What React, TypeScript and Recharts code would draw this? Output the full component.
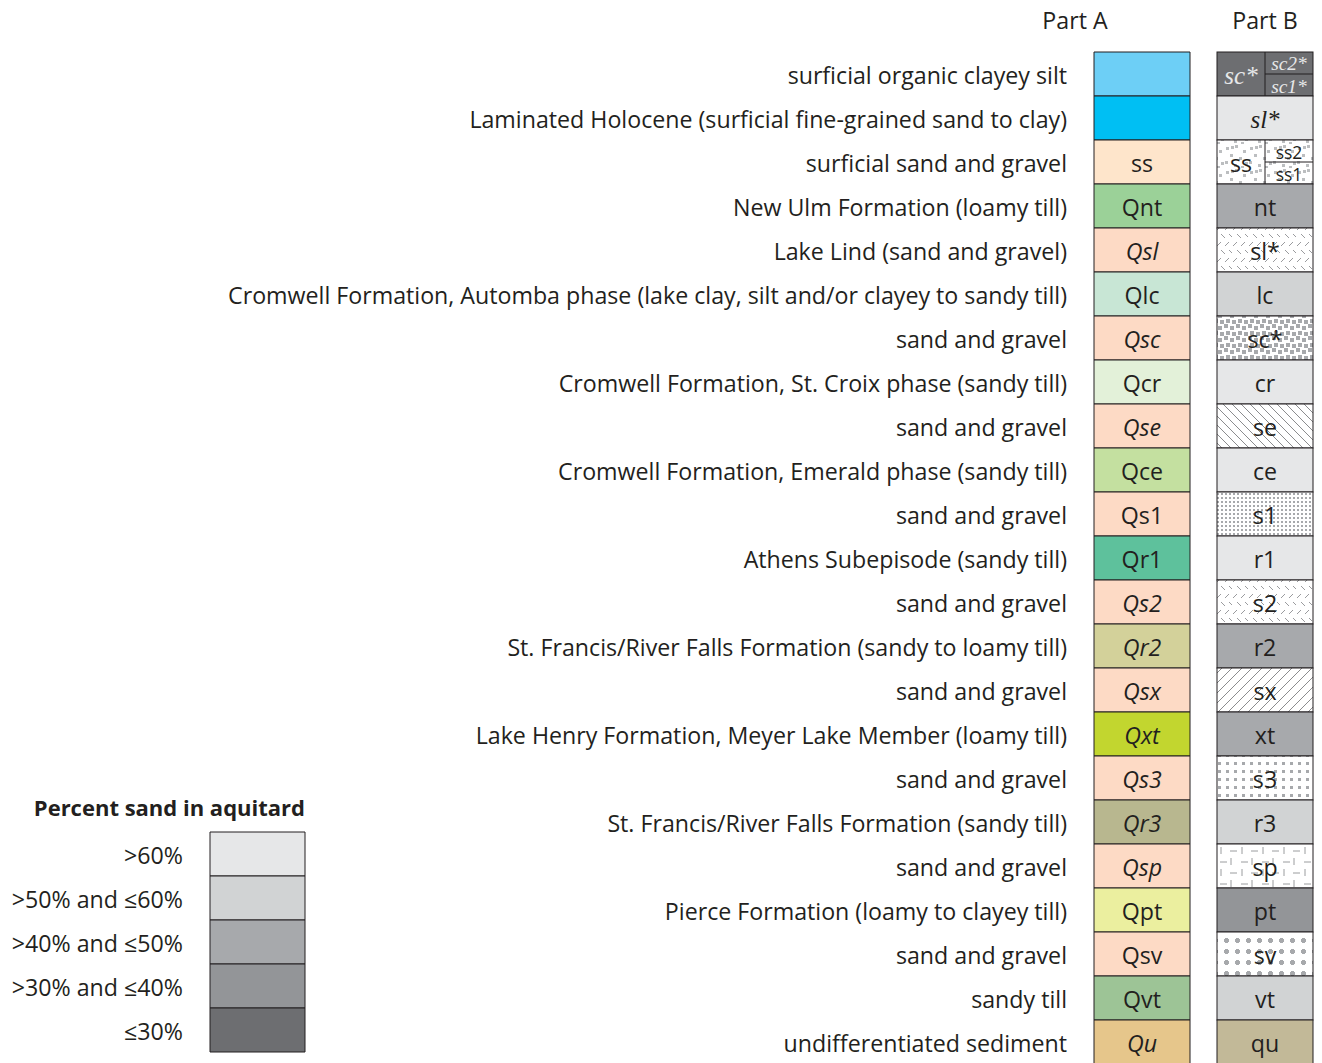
import React from 'react';
import { BarChart, Bar, XAxis, YAxis, Cell, LabelList } from 'recharts';

// Row descriptions (left labels), top to bottom
const rowLabels = [
  'surficial organic clayey silt',
  'Laminated Holocene (surficial fine-grained sand to clay)',
  'surficial sand and gravel',
  'New Ulm Formation (loamy till)',
  'Lake Lind (sand and gravel)',
  'Cromwell Formation, Automba phase (lake clay, silt and/or clayey to sandy till)',
  'sand and gravel',
  'Cromwell Formation, St. Croix phase (sandy till)',
  'sand and gravel',
  'Cromwell Formation, Emerald phase (sandy till)',
  'sand and gravel',
  'Athens Subepisode (sandy till)',
  'sand and gravel',
  'St. Francis/River Falls Formation (sandy to loamy till)',
  'sand and gravel',
  'Lake Henry Formation, Meyer Lake Member (loamy till)',
  'sand and gravel',
  'St. Francis/River Falls Formation (sandy till)',
  'sand and gravel',
  'Pierce Formation (loamy to clayey till)',
  'sand and gravel',
  'sandy till',
  'undifferentiated sediment',
];

const partACodes = [
  '', '', 'ss', 'Qnt', 'Qsl', 'Qlc', 'Qsc', 'Qcr', 'Qse', 'Qce', 'Qs1', 'Qr1',
  'Qs2', 'Qr2', 'Qsx', 'Qxt', 'Qs3', 'Qr3', 'Qsp', 'Qpt', 'Qsv', 'Qvt', 'Qu',
];

const partAItalic = [
  'Qsl', 'Qsc', 'Qse', 'Qs2', 'Qr2', 'Qsx', 'Qxt', 'Qs3', 'Qr3', 'Qsp', 'Qu',
];

const partAColors = [
  '#6dcff6', '#00bff3', '#fee5cb', '#9bd198', '#fddac5', '#c8e6d5', '#fddac5', '#e3f1d9',
  '#fddac5', '#c4e0a0', '#fddac5', '#5ec19c', '#fddac5', '#d3d19a', '#fddac5', '#c2d62f',
  '#fddac5', '#b8b78f', '#fddac5', '#ebef9f', '#fddac5', '#9dc496', '#e6c68b',
];

const partBCodes = [
  'sc*', 'sl*', 'ss', 'nt', 'sl*', 'lc', 'sc*', 'cr', 'se', 'ce', 's1', 'r1',
  's2', 'r2', 'sx', 'xt', 's3', 'r3', 'sp', 'pt', 'sv', 'vt', 'qu',
];

// split cells: [upper, lower] labels in the right half
const partBSplits: Record<number, string[]> = {
  0: ['sc2*', 'sc1*'],
  2: ['ss2', 'ss1'],
};

const partBSerif = [0, 1];

const partBFills = [
  '#6d6e71', '#e6e7e8', 'url(#pat-ss)', '#a7a9ac', 'url(#pat-zig)', '#d1d3d4',
  'url(#pat-check)', '#e6e7e8', 'url(#pat-back)', '#e6e7e8', 'url(#pat-fine)', '#e6e7e8',
  'url(#pat-zig)', '#a7a9ac', 'url(#pat-fwd)', '#a7a9ac', 'url(#pat-dots)', '#d1d3d4',
  'url(#pat-dash)', '#939598', 'url(#pat-plus)', '#d1d3d4', '#c2b998',
];

const sandClasses = ['>60%', '>50% and ≤60%', '>40% and ≤50%', '>30% and ≤40%', '≤30%'];
const sandColors = ['#e6e7e8', '#d1d3d4', '#a7a9ac', '#939598', '#6d6e71'];

const FONT = '"Open Sans", "Noto Sans", sans-serif';
const SERIF = '"Liberation Serif", "DejaVu Serif", serif';
const INK = '#231f20';
const FS = 23.2;

const partAData = rowLabels.map((label, i) => ({ key: `r${i}`, label, unit: 1 }));
const partBData = partBCodes.map((code, i) => ({ key: `r${i}`, code, unit: 1 }));
const sandData = sandClasses.map((label, i) => ({ key: `s${i}`, label, unit: 1 }));

const RightTick = ({ x, y, payload, labels }: any) => {
  const idx = Number(String(payload.value).slice(1));
  return (
    <text x={x} y={y + 1} textAnchor="end" dominantBaseline="central" fontFamily={FONT} fontSize={FS} fill={INK}>
      {labels[idx]}
    </text>
  );
};

const PartALabel = (props: any) => {
  const { x, y, width, height, index } = props;
  const code = partACodes[index];
  if (!code) return null;
  return (
    <text
      x={x + width / 2}
      y={y + height / 2 + 1}
      textAnchor="middle"
      dominantBaseline="central"
      fontFamily={FONT}
      fontSize={FS}
      fontStyle={partAItalic.includes(code) ? 'italic' : 'normal'}
      fill={INK}
    >
      {code}
    </text>
  );
};

const PartBShape = (props: any) => {
  const { x, y, width, height, index } = props;
  const split = partBSplits[index];
  const serif = partBSerif.includes(index);
  const dark = index === 0;
  const color = dark ? '#e6e7e8' : INK;
  const family = serif ? SERIF : FONT;
  const style = serif ? 'italic' : 'normal';
  const size = serif ? 25 : FS;
  const subSize = serif ? 19.5 : 17.5;
  const cx = x + width / 2;
  const cy = y + height / 2;
  return (
    <g>
      <rect x={x} y={y} width={width} height={height} fill={partBFills[index]} stroke={INK} strokeWidth={1} />
      {split && (
        <g>
          <line x1={cx} y1={y} x2={cx} y2={y + height} stroke={INK} strokeWidth={1} />
          <line x1={cx} y1={cy} x2={x + width} y2={cy} stroke={INK} strokeWidth={1} />
          <text x={x + width / 4} y={cy + 1} textAnchor="middle" dominantBaseline="central"
            fontFamily={family} fontStyle={style} fontSize={size} fill={color}>
            {partBCodes[index]}
          </text>
          <text x={x + (3 * width) / 4} y={y + height / 4 + 0.5} textAnchor="middle" dominantBaseline="central"
            fontFamily={family} fontStyle={style} fontSize={subSize} fill={color}>
            {split[0]}
          </text>
          <text x={x + (3 * width) / 4} y={y + (3 * height) / 4 + 1} textAnchor="middle" dominantBaseline="central"
            fontFamily={family} fontStyle={style} fontSize={subSize} fill={color}>
            {split[1]}
          </text>
        </g>
      )}
      {!split && (
        <text x={cx} y={cy + 1} textAnchor="middle" dominantBaseline="central"
          fontFamily={family} fontStyle={style} fontSize={size} fill={color}>
          {partBCodes[index]}
        </text>
      )}
    </g>
  );
};

const Patterns = () => (
  <svg width={0} height={0} style={{ position: 'absolute' }}>
    <defs>
      <pattern id="pat-ss" width={24} height={24} patternUnits="userSpaceOnUse">
        <rect width={24} height={24} fill="#fff" />
        {[[2, 3], [11, 1], [19, 6], [6, 10], [15, 13], [1, 17], [10, 20], [21, 18], [7, 2], [17, 22]].map(([px, py], i) => (
          <rect key={i} x={px} y={py} width={3} height={3} fill="#bcbec0" />
        ))}
      </pattern>
      <pattern id="pat-zig" width={16} height={16} patternUnits="userSpaceOnUse">
        <rect width={16} height={16} fill="#fff" />
        <line x1={1} y1={6} x2={5} y2={2} stroke="#808285" strokeWidth={0.8} />
        <line x1={9} y1={6} x2={13} y2={2} stroke="#808285" strokeWidth={0.8} />
        <line x1={5} y1={10} x2={9} y2={14} stroke="#808285" strokeWidth={0.8} />
        <line x1={13} y1={10} x2={17} y2={14} stroke="#808285" strokeWidth={0.8} />
      </pattern>
      <pattern id="pat-check" width={12} height={12} patternUnits="userSpaceOnUse">
        <rect width={12} height={12} fill="#fff" />
        <rect x={0} y={0} width={4} height={4} fill="#a7a9ac" />
        <rect x={6} y={2} width={4} height={4} fill="#a7a9ac" />
        <rect x={2} y={7} width={4} height={4} fill="#a7a9ac" />
        <rect x={8} y={8} width={4} height={4} fill="#a7a9ac" />
      </pattern>
      <pattern id="pat-back" width={9} height={9} patternUnits="userSpaceOnUse">
        <rect width={9} height={9} fill="#fff" />
        <line x1={0} y1={0} x2={9} y2={9} stroke="#6d6e71" strokeWidth={0.8} />
        <line x1={-9} y1={0} x2={9} y2={18} stroke="#6d6e71" strokeWidth={0.8} />
        <line x1={0} y1={-9} x2={18} y2={9} stroke="#6d6e71" strokeWidth={0.8} />
      </pattern>
      <pattern id="pat-fwd" width={10} height={10} patternUnits="userSpaceOnUse">
        <rect width={10} height={10} fill="#fff" />
        <line x1={0} y1={10} x2={10} y2={0} stroke="#6d6e71" strokeWidth={0.8} />
        <line x1={-10} y1={10} x2={10} y2={-10} stroke="#6d6e71" strokeWidth={0.8} />
        <line x1={0} y1={20} x2={20} y2={0} stroke="#6d6e71" strokeWidth={0.8} />
      </pattern>
      <pattern id="pat-fine" width={4} height={4} patternUnits="userSpaceOnUse">
        <rect width={4} height={4} fill="#fff" />
        <rect x={1} y={1} width={2} height={2} fill="#a7a9ac" />
      </pattern>
      <pattern id="pat-dots" width={8} height={8} patternUnits="userSpaceOnUse">
        <rect width={8} height={8} fill="#fff" />
        <rect x={2} y={2} width={3} height={3} fill="#a7a9ac" />
      </pattern>
      <pattern id="pat-dash" width={21} height={22} patternUnits="userSpaceOnUse">
        <rect width={21} height={22} fill="#fff" />
        <line x1={2} y1={4} x2={9} y2={4} stroke="#808285" strokeWidth={0.8} />
        <line x1={13} y1={0} x2={13} y2={7} stroke="#808285" strokeWidth={0.8} />
        <line x1={12} y1={15} x2={19} y2={15} stroke="#808285" strokeWidth={0.8} />
        <line x1={3} y1={11} x2={3} y2={18} stroke="#808285" strokeWidth={0.8} />
      </pattern>
      <pattern id="pat-plus" width={11} height={11} patternUnits="userSpaceOnUse">
        <rect width={11} height={11} fill="#fff" />
        <rect x={3} y={4} width={5} height={3} fill="#a7a9ac" />
        <rect x={4} y={3} width={3} height={5} fill="#a7a9ac" />
      </pattern>
    </defs>
  </svg>
);

const headerStyle: React.CSSProperties = {
  position: 'absolute',
  top: 4,
  width: 120,
  textAlign: 'center',
  fontFamily: FONT,
  fontSize: FS,
  color: INK,
  whiteSpace: 'nowrap',
};

const layer: React.CSSProperties = { position: 'absolute', left: 0, top: 0 };

export default function App() {
  return (
    <div style={{ position: 'absolute', left: 0, top: 0, width: 1322, height: 1063, background: '#fff', overflow: 'hidden' }}>
      <Patterns />
      <div style={{ ...headerStyle, left: 1075 - 60 }}>Part A</div>
      <div style={{ ...headerStyle, left: 1265 - 60 }}>Part B</div>
      <div style={{ ...headerStyle, top: 792, left: 0, width: 305, textAlign: 'right', fontWeight: 700, fontSize: 22 }}>
        Percent sand in aquitard
      </div>

      <div style={layer}>
        <BarChart width={1322} height={1064} data={partAData} layout="vertical" barCategoryGap={0}
          margin={{ top: 52, right: 132, bottom: 0, left: 0 }}>
          <XAxis type="number" domain={[0, 1]} hide />
          <YAxis type="category" dataKey="key" width={1094} axisLine={false} tickLine={false}
            tickSize={0} tickMargin={27} interval={0}
            tick={(p: any) => <RightTick {...p} labels={rowLabels} />} />
          <Bar dataKey="unit" stroke={INK} strokeWidth={1} isAnimationActive={false}>
            {partAData.map((d, i) => (
              <Cell key={d.key} fill={partAColors[i]} />
            ))}
            <LabelList dataKey="unit" content={PartALabel} />
          </Bar>
        </BarChart>
      </div>

      <div style={layer}>
        <BarChart width={1322} height={1064} data={partBData} layout="vertical" barCategoryGap={0}
          margin={{ top: 52, right: 9, bottom: 0, left: 1217 }}>
          <XAxis type="number" domain={[0, 1]} hide />
          <YAxis type="category" dataKey="key" hide />
          <Bar dataKey="unit" isAnimationActive={false} shape={PartBShape} />
        </BarChart>
      </div>

      <div style={layer}>
        <BarChart width={320} height={1064} data={sandData} layout="vertical" barCategoryGap={0}
          margin={{ top: 832, right: 15, bottom: 12, left: 0 }}>
          <XAxis type="number" domain={[0, 1]} hide />
          <YAxis type="category" dataKey="key" width={210} axisLine={false} tickLine={false}
            tickSize={0} tickMargin={27} interval={0}
            tick={(p: any) => <RightTick {...p} labels={sandClasses} />} />
          <Bar dataKey="unit" stroke={INK} strokeWidth={1} isAnimationActive={false}>
            {sandData.map((d, i) => (
              <Cell key={d.key} fill={sandColors[i]} />
            ))}
          </Bar>
        </BarChart>
      </div>
    </div>
  );
}
